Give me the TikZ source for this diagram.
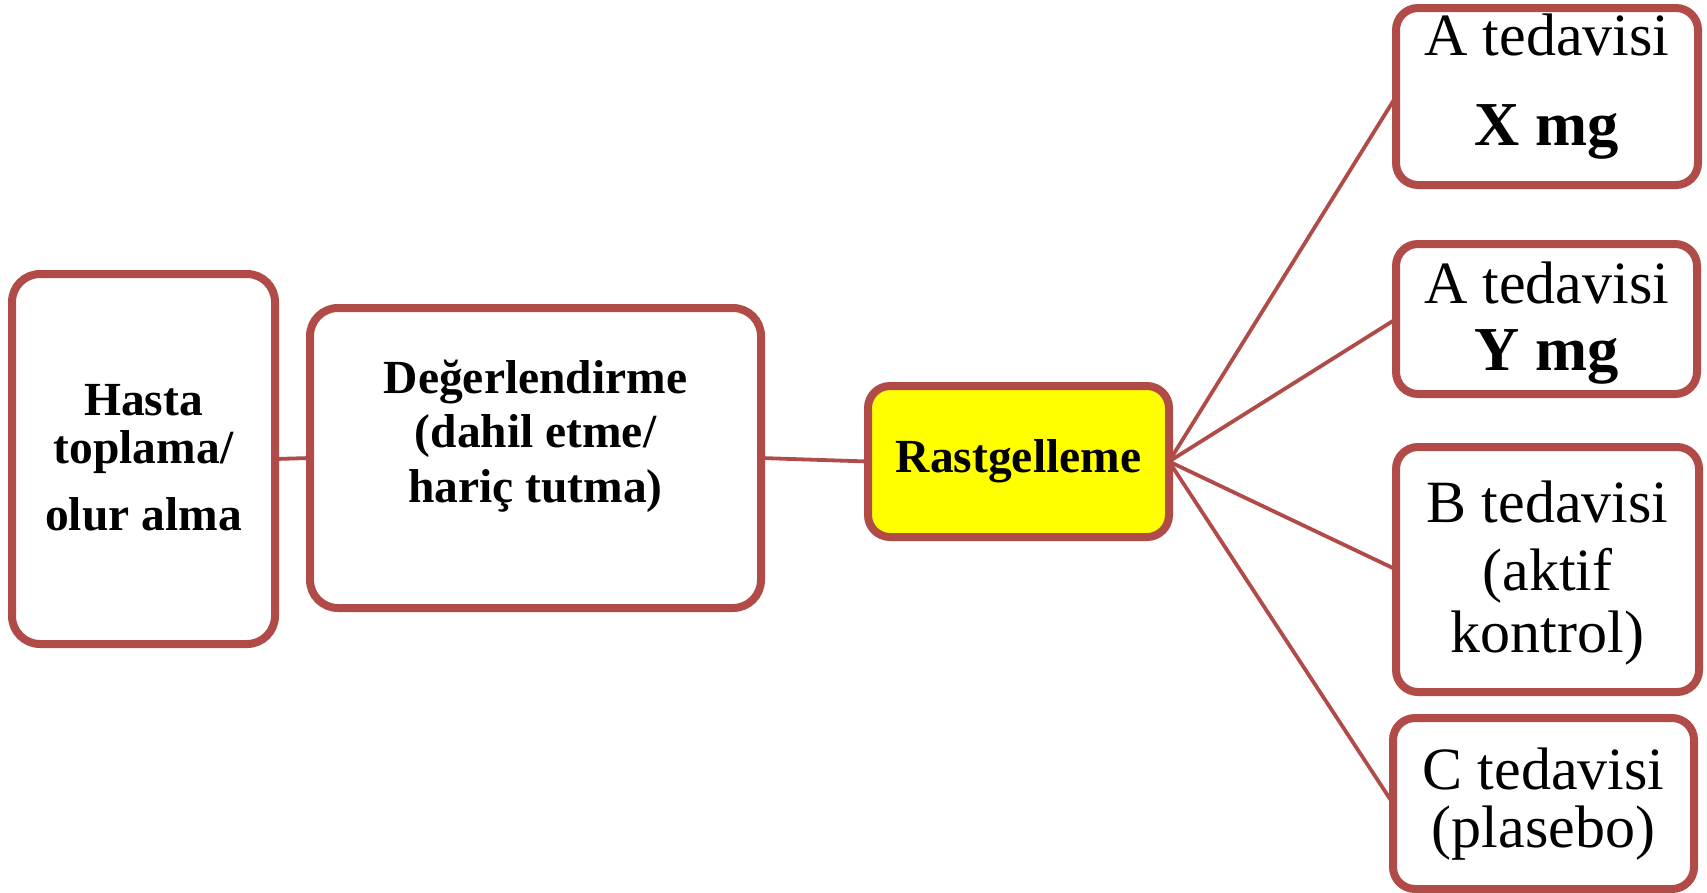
\documentclass[tikz,border=0pt]{standalone}
\usepackage{fontspec}
\setmainfont{Liberation Serif}
\definecolor{rim}{RGB}{176,75,72}
\definecolor{hilite}{RGB}{255,255,0}
\tikzset{
  stage/.style={draw=rim, line width=8pt, fill=white, rounded corners=28pt,
                inner sep=0pt, outer sep=0pt},
  arm/.style={stage, rounded corners=22pt},
  link/.style={draw=rim, line width=3.8pt},
  bt/.style={font=\fontsize{47.5}{50}\selectfont\bfseries, anchor=base, inner sep=0pt},
  rt/.style={font=\fontsize{60}{64}\selectfont, anchor=base, inner sep=0pt},
  rbt/.style={font=\fontsize{62.5}{64}\selectfont\bfseries, anchor=base, inner sep=0pt}
}
\begin{document}
\begin{tikzpicture}[x=1pt, y=-1pt]
\useasboundingbox (0,0) rectangle (1707,892);

% boxes
\node[stage, minimum width=263pt, minimum height=370pt] (recruit) at (143.5,459) {};
\node[stage, minimum width=451pt, minimum height=300pt] (screen) at (535.5,458) {};
\node[arm, fill=hilite, minimum width=301pt, minimum height=151pt] (rand) at (1018.5,461.5) {};
\node[arm, minimum width=302pt, minimum height=177pt] (armx) at (1547,96.5) {};
\node[arm, minimum width=301pt, minimum height=150pt] (army) at (1546.5,319) {};
\node[arm, minimum width=303pt, minimum height=245pt] (armb) at (1547.5,569.5) {};
\node[arm, minimum width=301pt, minimum height=171pt] (armc) at (1543.5,803.5) {};

% connectors
\draw[link] (recruit.east) -- (screen.west);
\draw[link] (screen.east) -- (rand.west);
\draw[link] (rand.east) -- (armx.west);
\draw[link] (rand.east) -- (army.west);
\draw[link] (rand.east) -- (armb.west);
\draw[link] (rand.east) -- (armc.west);

% texts
\node[bt] (r1) at (143.5,415) {Hasta};
\node[bt] (r2) at (143.5,463) {toplama/};
\node[bt] (r3) at (143.5,530) {olur alma};

\node[bt] (s1) at (535.5,393) {Değerlendirme};
\node[bt] (s2) at (535.5,447) {(dahil etme/};
\node[bt] (s3) at (535.5,502) {hariç tutma)};

\node[bt] (q1) at (1018.5,472) {Rastgelleme};

\node[rt] (x1) at (1547,55) {A tedavisi};
\node[rbt] (x2) at (1547,145) {X mg};

\node[rt] (y1) at (1546.5,303) {A tedavisi};
\node[rbt] (y2) at (1546.5,370) {Y mg};

\node[rt] (b1) at (1547.5,522) {B tedavisi};
\node[rt] (b2) at (1547.5,590) {(aktif};
\node[rt] (b3) at (1547.5,652) {kontrol)};

\node[rt] (c1) at (1543.5,789) {C tedavisi};
\node[rt] (c2) at (1543.5,847) {(plasebo)};
\end{tikzpicture}
\end{document}
